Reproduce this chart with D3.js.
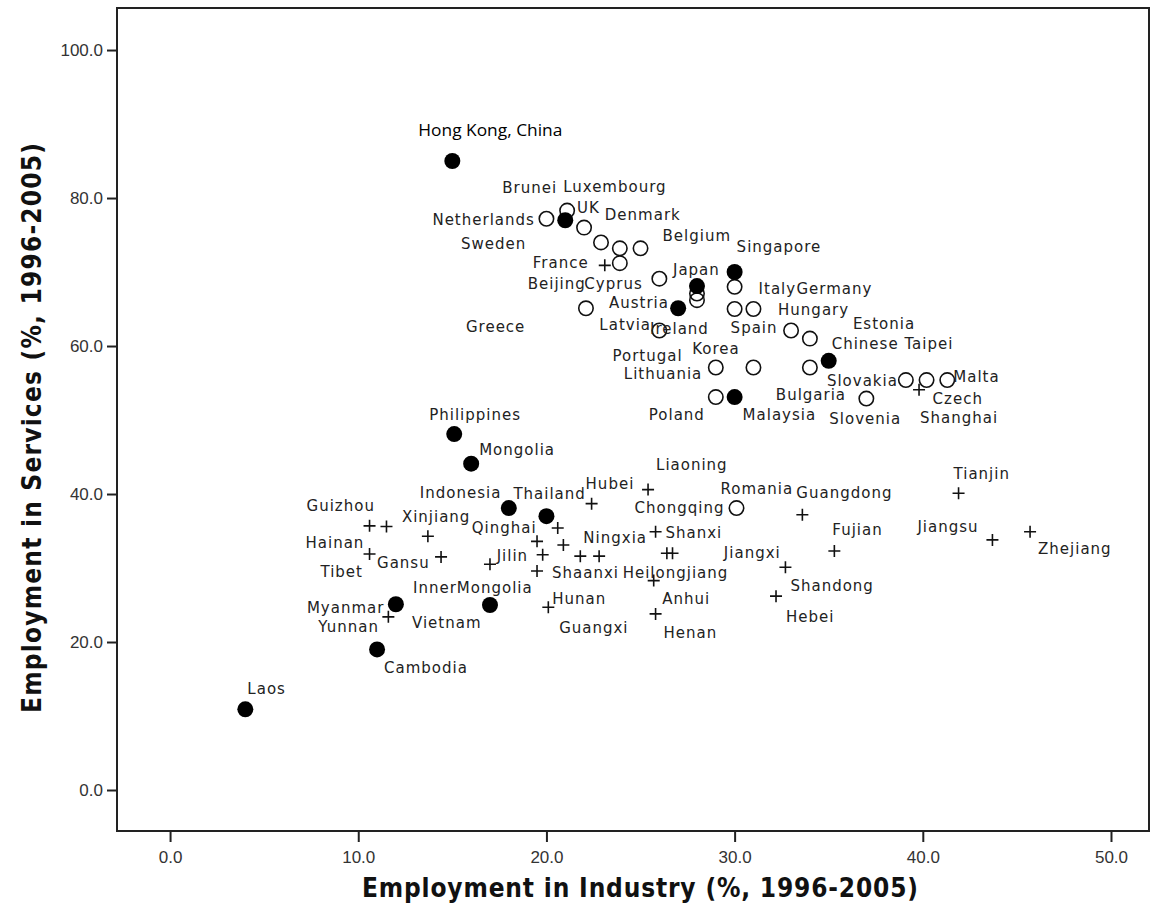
<!DOCTYPE html>
<html>
<head>
<meta charset="utf-8">
<script src="https://cdn.jsdelivr.net/npm/d3@7"></script>
<style>
body { margin: 0; background: #fff; }
.tick text { font-family: 'Liberation Sans', Arial, sans-serif; font-size: 17px; fill: #333; }
.tick line { stroke: #222; stroke-width: 2px; }
.lbl { font-family: 'DejaVu Sans', sans-serif; font-size: 15px; letter-spacing: 1px; fill: #222; }
.title { font-family: 'Liberation Sans Narrow', 'DejaVu Sans Condensed', 'Liberation Sans', sans-serif; font-weight: bold; font-size: 26px; fill: #111; }
</style>
</head>
<body>
<script>
// Asia (filled circles)
var asiaNames = ['Hong Kong, China', 'Brunei', 'Japan', 'Singapore', 'Korea', 'Chinese Taipei', 'Malaysia',
	'Philippines', 'Mongolia', 'Indonesia', 'Thailand', 'Myanmar', 'Vietnam', 'Cambodia', 'Laos'];
var asiaIndustry = [15.0, 21.0, 28.0, 30.0, 27.0, 35.0, 30.0, 15.1, 16.0, 18.0, 20.0, 12.0, 17.0, 11.0, 4.0];
var asiaServices = [85.0, 77.0, 68.1, 70.0, 65.1, 58.0, 53.1, 48.1, 44.1, 38.1, 37.0, 25.1, 25.0, 19.0, 10.9];

// Europe (open circles)
var euNames = ['Netherlands', 'Luxembourg', 'UK', 'Sweden', 'Denmark', 'Belgium', 'France', 'Cyprus', 'Italy',
	'Ireland', 'Austria', 'Greece', 'Spain', 'Germany', 'Latvia', 'Hungary', 'Estonia', 'Lithuania', 'Portugal',
	'Slovakia', 'Poland', 'Slovenia', 'Bulgaria', 'Czech', 'Malta', 'Romania'];
var euIndustry = [20.0, 21.1, 22.0, 22.9, 23.9, 25.0, 23.9, 26.0, 30.0, 28.0, 28.0, 22.1, 30.0, 31.0, 26.0, 33.0,
	34.0, 29.0, 31.0, 34.0, 29.0, 37.0, 39.1, 40.2, 41.3, 30.1];
var euServices = [77.2, 78.3, 76.0, 74.0, 73.2, 73.2, 71.2, 69.1, 68.0, 67.1, 66.2, 65.1, 65.0, 65.0, 62.1, 62.1,
	61.0, 57.1, 57.1, 57.1, 53.1, 52.9, 55.4, 55.4, 55.4, 38.1];

// Chinese provinces (plus marks)
var cnNames = ['Beijing', 'Shanghai', 'Tianjin', 'Jiangsu', 'Zhejiang', 'Guangdong', 'Fujian', 'Shandong', 'Hebei',
	'Liaoning', 'Hubei', 'Chongqing', 'Shanxi', 'Jiangxi', 'Ningxia', 'Qinghai', 'Jilin', 'Shaanxi', 'Heilongjiang',
	'Hunan', 'Henan', 'Anhui', 'Guangxi', 'Sichuan', 'Guizhou', 'Tibet', 'Xinjiang', 'Hainan', 'Gansu',
	'InnerMongolia', 'Yunnan'];
var cnIndustry = [23.1, 39.8, 41.9, 43.7, 45.7, 33.6, 35.3, 32.7, 32.2, 25.4, 22.4, 25.8, 26.7, 26.4, 20.9, 20.6,
	19.8, 19.5, 25.7, 20.1, 25.8, 21.8, 22.8, 19.5, 10.6, 11.5, 13.7, 10.6, 14.4, 17.0, 11.6];
var cnServices = [70.9, 54.1, 40.1, 33.8, 34.9, 37.2, 32.3, 30.1, 26.2, 40.6, 38.7, 34.9, 32.0, 32.0, 33.1, 35.4,
	31.8, 29.6, 28.3, 24.7, 23.8, 31.6, 31.6, 33.6, 35.7, 35.6, 34.3, 31.9, 31.5, 30.5, 23.4];

var xTicks = [0, 10, 20, 30, 40, 50];
var yTicks = [0, 20, 40, 60, 80, 100];

// label placement relative to its mark (px): left edge, vertical centre
var labelOffset = {
	'Hong Kong, China': [-34, -31], 'Brunei': [-63, -33], 'Japan': [-24, -16], 'Singapore': [2, -25],
	'Korea': [14, 40], 'Chinese Taipei': [3, -17], 'Malaysia': [8, 18], 'Philippines': [-25, -19],
	'Mongolia': [8, -14], 'Indonesia': [-89, -15], 'Thailand': [-33, -23], 'Myanmar': [-89, 3],
	'Vietnam': [-78, 18], 'Cambodia': [7, 18], 'Laos': [2, -21],
	'Netherlands': [-114, 1], 'Luxembourg': [-4, -24], 'UK': [-7, -20], 'Sweden': [-140, 1],
	'Denmark': [-15, -34], 'Belgium': [22, -13], 'France': [-87, -1], 'Cyprus': [-75, 5], 'Italy': [24, 2],
	'Ireland': [-47, 35], 'Austria': [-88, 2], 'Greece': [-120, 18], 'Spain': [-4, 19], 'Germany': [43, -20],
	'Latvia': [-60, -6], 'Hungary': [-13, -21], 'Estonia': [43, -15], 'Lithuania': [-92, 6],
	'Portugal': [-141, -12], 'Slovakia': [17, 13], 'Poland': [-67, 18], 'Slovenia': [-37, 20],
	'Bulgaria': [-130, 15], 'Czech': [6, 19], 'Malta': [6, -3], 'Romania': [-16, -19],
	'Beijing': [-77, 18], 'Shanghai': [1, 28], 'Tianjin': [-5, -20], 'Jiangsu': [-75, -13], 'Zhejiang': [8, 17],
	'Guangdong': [-6, -22], 'Fujian': [-2, -21], 'Shandong': [5, 18], 'Hebei': [10, 20], 'Liaoning': [8, -25],
	'Hubei': [-6, -20], 'Chongqing': [-21, -24], 'Shanxi': [-7, -21], 'Jiangxi': [57, -1], 'Ningxia': [20, -7],
	'Qinghai': [-86, 0], 'Jilin': [-46, 1], 'Shaanxi': [15, 2], 'Heilongjiang': [-31, -8], 'Hunan': [4, -9],
	'Henan': [8, 19], 'Anhui': [82, 42], 'Guangxi': [-40, 71], 'Guizhou': [-63, -20], 'Tibet': [-66, 45],
	'Xinjiang': [-26, -20], 'Hainan': [-64, -11], 'Gansu': [-64, 6], 'InnerMongolia': [-77, 23],
	'Yunnan': [-70, 10]
};

var width = 1156, height = 908;
var frame = { left: 117, right: 1149, top: 8, bottom: 831 };

var x = d3.scaleLinear().domain([-2.82, 52.02]).range([frame.left, frame.right]),
	y = d3.scaleLinear().domain([-5.54, 105.68]).range([frame.bottom, frame.top]);

function rows(names, xs, ys, group) {
	return names.map(function(n, i) {
		return { name: n, industry: xs[i], services: ys[i], group: group };
	});
}

var asia = rows(asiaNames, asiaIndustry, asiaServices, 'asia'),
	eu = rows(euNames, euIndustry, euServices, 'eu'),
	cn = rows(cnNames, cnIndustry, cnServices, 'cn');

var svg = d3.select('body').append('svg')
	.attr('width', width)
	.attr('height', height);

svg.append('rect')
	.attr('width', width).attr('height', height)
	.style('fill', '#fff');

// axes
var gx = svg.append('g')
	.attr('transform', 'translate(0,' + frame.bottom + ')')
	.call(d3.axisBottom(x).tickValues(xTicks).tickSize(11).tickSizeOuter(0).tickFormat(d3.format('.1f')));
gx.select('.domain').remove();
gx.selectAll('.tick text').attr('y', 26).attr('dy', '0.35em');

var gy = svg.append('g')
	.attr('transform', 'translate(' + frame.left + ',0)')
	.call(d3.axisLeft(y).tickValues(yTicks).tickSize(10).tickSizeOuter(0).tickFormat(d3.format('.1f')));
gy.select('.domain').remove();
gy.selectAll('.tick text').attr('x', -14).attr('dy', '0.34em');

// frame
svg.append('rect')
	.attr('x', frame.left)
	.attr('y', frame.top)
	.attr('width', frame.right - frame.left)
	.attr('height', frame.bottom - frame.top)
	.style('fill', 'none')
	.style('stroke', '#222')
	.style('stroke-width', 2);

// marks
svg.selectAll('.eu')
	.data(eu)
	.enter().append('circle')
		.attr('class', 'eu')
		.attr('cx', function(d) { return x(d.industry); })
		.attr('cy', function(d) { return y(d.services); })
		.attr('r', 7.2)
		.style('fill', 'none')
		.style('stroke', '#111')
		.style('stroke-width', 1.6);

svg.selectAll('.cn')
	.data(cn)
	.enter().append('path')
		.attr('class', 'cn')
		.attr('transform', function(d) { return 'translate(' + x(d.industry) + ',' + y(d.services) + ')'; })
		.attr('d', 'M-6,0H6M0,-6V6')
		.style('stroke', '#111')
		.style('stroke-width', 1.6);

svg.selectAll('.asia')
	.data(asia)
	.enter().append('circle')
		.attr('class', 'asia')
		.attr('cx', function(d) { return x(d.industry); })
		.attr('cy', function(d) { return y(d.services); })
		.attr('r', 8)
		.style('fill', '#000');

// labels
var all = eu.concat(cn, asia).filter(function(d) { return labelOffset[d.name]; });

svg.selectAll('.lbl')
	.data(all)
	.enter().append('text')
		.attr('class', 'lbl')
		.attr('x', function(d) { return x(d.industry) + labelOffset[d.name][0]; })
		.attr('y', function(d) { return y(d.services) + labelOffset[d.name][1]; })
		.attr('dy', '0.36em')
		.text(function(d) { return d.name; });

// the Hong Kong label is set in a different face in the original
svg.selectAll('.lbl')
	.filter(function(d) { return d.name === 'Hong Kong, China'; })
	.style('font-family', "'Open Sans', sans-serif")
	.style('font-size', '16px')
	.style('letter-spacing', '0px')
	.style('fill', '#000')
	.attr('textLength', 144)
	.attr('lengthAdjust', 'spacingAndGlyphs');

// axis titles
svg.append('text')
	.attr('class', 'title')
	.attr('x', 640)
	.attr('y', 888)
	.attr('dy', '0.35em')
	.attr('text-anchor', 'middle')
	.attr('textLength', 556)
	.attr('lengthAdjust', 'spacing')
	.text('Employment in Industry (%, 1996-2005)');

svg.append('text')
	.attr('class', 'title')
	.attr('transform', 'translate(32,428) rotate(-90)')
	.attr('dy', '0.35em')
	.attr('text-anchor', 'middle')
	.attr('textLength', 570)
	.attr('lengthAdjust', 'spacing')
	.text('Employment in Services (%, 1996-2005)');
</script>
</body>
</html>
